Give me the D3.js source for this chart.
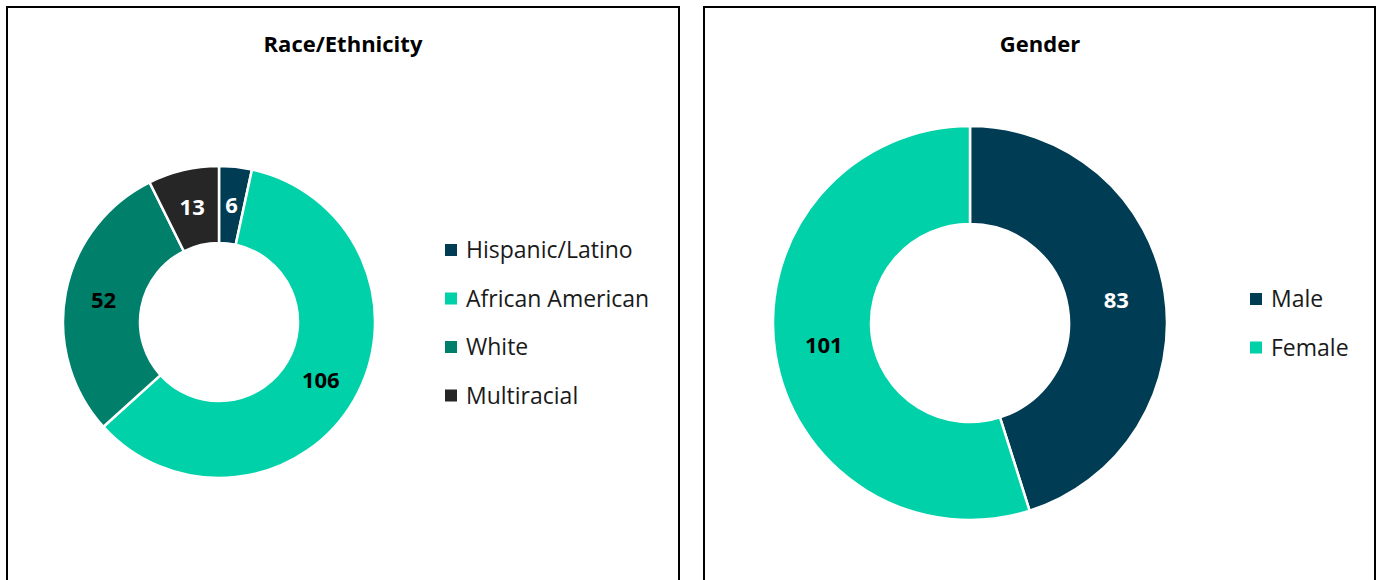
<!DOCTYPE html>
<html><head><meta charset="utf-8">
<script src="https://cdn.jsdelivr.net/npm/d3@7"></script>
<style>body{margin:0;background:#fff;}svg{display:block;font-family:"Open Sans",Lato,sans-serif;}</style>
</head><body>
<svg id="c" width="1379" height="580"></svg>
<script>
const raceCategories = ["Hispanic/Latino","African American","White","Multiracial"];
const raceValues = [6,106,52,13];
const raceColors = ["#003c54","#00d1a8","#00806a","#262626"];
const raceLabelColors = ["#fff","#000","#000","#fff"];

const genderCategories = ["Male","Female"];
const genderValues = [83,101];
const genderColors = ["#003c54","#00d1a8"];
const genderLabelColors = ["#fff","#000"];

const svg = d3.select("#c");

function panel(opt){
  const g = svg.append("g");
  g.append("rect").attr("x",opt.x).attr("y",opt.y).attr("width",opt.w).attr("height",opt.h)
    .attr("fill","#fff").attr("stroke","#000").attr("stroke-width",2);
  g.append("text").attr("x",opt.titleX).attr("y",opt.titleY).attr("text-anchor","middle")
    .attr("font-weight","bold").attr("font-size",22).attr("fill","#000").text(opt.title);
  const data = opt.cats.map((c,i)=>({cat:c,val:opt.vals[i],color:opt.colors[i],lc:opt.lcolors[i]}));
  const pie = d3.pie().sort(null).value(d=>d.val);
  const arc = d3.arc().innerRadius(opt.ri).outerRadius(opt.ro);
  const lab = d3.arc().innerRadius((opt.ri+opt.ro)/2).outerRadius((opt.ri+opt.ro)/2);
  const dg = g.append("g").attr("transform",`translate(${opt.cx},${opt.cy})`);
  const arcs = pie(data);
  dg.selectAll("path").data(arcs).join("path").attr("d",arc).attr("fill",d=>d.data.color)
    .attr("stroke","#fff").attr("stroke-width",2.5);
  dg.selectAll("text").data(arcs).join("text")
    .attr("x",d=>lab.centroid(d)[0]).attr("y",d=>lab.centroid(d)[1]).attr("dy","0.35em")
    .attr("text-anchor","middle").attr("font-weight","bold").attr("font-size",22)
    .attr("fill",d=>d.data.lc).text(d=>d.data.val);
  const lg = g.append("g");
  const items = lg.selectAll("g").data(data).join("g")
    .attr("transform",(d,i)=>`translate(${opt.lx},${opt.ly+i*opt.lstep})`);
  items.append("rect").attr("x",0).attr("y",-6).attr("width",12).attr("height",12).attr("fill",d=>d.color);
  items.append("text").attr("x",21).attr("y",0).attr("dy","0.35em").attr("font-size",23)
    .attr("fill","#1a1a1a").text(d=>d.cat);
}

panel({x:7,y:7,w:672,h:600,title:"Race/Ethnicity",titleX:343,titleY:52,
  cats:raceCategories,vals:raceValues,colors:raceColors,lcolors:raceLabelColors,
  cx:219,cy:322,ri:79,ro:156,lx:445,ly:250,lstep:48.5});
panel({x:704,y:7,w:671,h:600,title:"Gender",titleX:1040,titleY:52,
  cats:genderCategories,vals:genderValues,colors:genderColors,lcolors:genderLabelColors,
  cx:970,cy:323,ri:99,ro:197,lx:1250,ly:299,lstep:48.5});
</script>
</body></html>
